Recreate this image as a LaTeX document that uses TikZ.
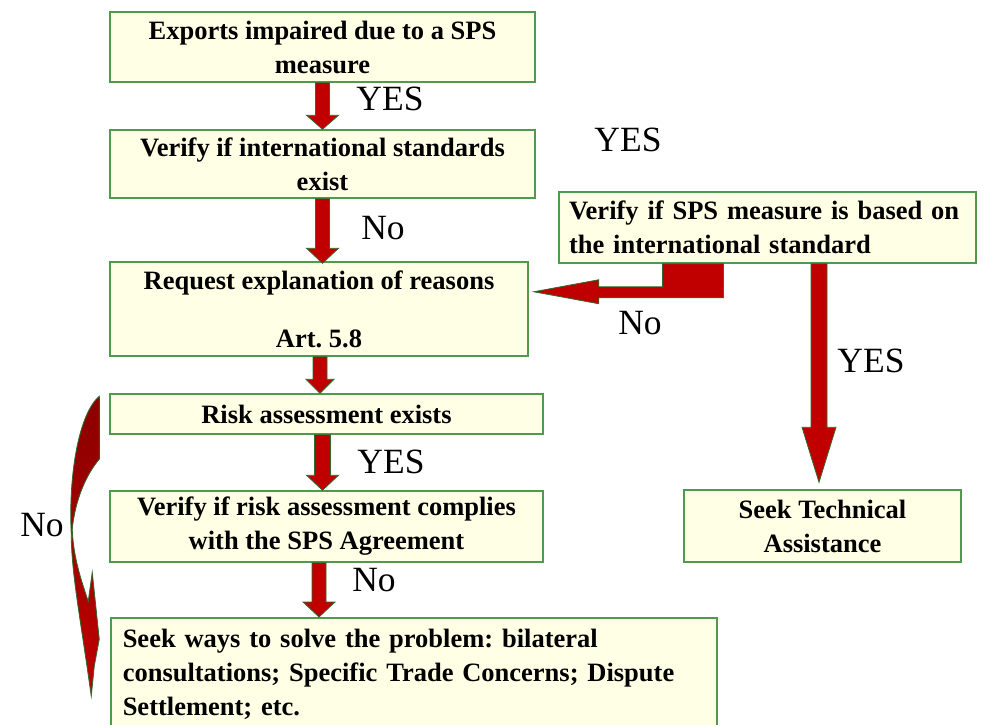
\documentclass[tikz,border=0pt]{standalone}
\usepackage{fontspec}
\setmainfont{Liberation Serif}
\usepackage{xcolor}
\usepackage{tikz}
\usetikzlibrary{positioning,arrows.meta,calc}
\definecolor{boxgreen}{HTML}{4E9A4E}
\definecolor{boxfill}{HTML}{FFFFE6}
\definecolor{arrowred}{HTML}{C00000}
\definecolor{arrowdark}{HTML}{8A0000}
\definecolor{rimgreen}{HTML}{2E6B2E}
\frenchspacing
% block arrow pointing down: from, to, shaft half width, head half width, head length
\newcommand{\blockdown}[5]{%
  \filldraw[blockarrow] let \p1=(#1), \p2=(#2) in
    (\x1-#3,\y1) -- (\x1+#3,\y1) -- (\x1+#3,\y2+#5) -- (\x1+#4,\y2+#5)
    -- (\x1,\y2) -- (\x1-#4,\y2+#5) -- (\x1-#3,\y2+#5) -- cycle;}

\begin{document}
\begin{tikzpicture}[x=1pt,y=-1pt,
   box/.style={draw=boxgreen,fill=boxfill,line width=1.5pt,inner xsep=10pt,inner ysep=4pt,
     align=center,font=\fontsize{26.5}{34}\selectfont\bfseries},
   leftbox/.style={box,align=left},
   answer/.style={font=\fontsize{35.5}{40}\selectfont,inner sep=0pt},
   blockarrow/.style={fill=arrowred,draw=rimgreen,line width=0.8pt,line join=miter},
   curvearrow/.style={top color=arrowdark,bottom color=arrowred,draw=rimgreen,line width=0.8pt}]
  \useasboundingbox (0,0) rectangle (984,724);

  % main column
  \node[box,minimum width=425,minimum height=70] (exp) at (322.5,47)
    {Exports impaired due to a SPS\\measure};
  \node[box,minimum width=425,minimum height=68] (intl) at (322.5,164)
    {Verify if international standards\\exist};
  \node[box,minimum width=418,minimum height=94] (req) at (319,309)
    {Request explanation of reasons\\[24pt]Art. 5.8};
  \node[box,minimum width=433,minimum height=40] (risk) at (326.5,414)
    {Risk assessment exists};
  \node[box,minimum width=433,minimum height=71] (comply) at (326.5,526.5)
    {Verify if risk assessment complies\\with the SPS Agreement};
  \node[leftbox,anchor=north west,text width=582,minimum height=113,inner xsep=12pt,inner ysep=9pt]
    (seek) at (110,617)
    {Seek ways to solve the problem: bilateral\\consultations; Specific Trade Concerns; Dispute\\Settlement; etc.};

  % right column
  \node[leftbox,text width=397,minimum height=71] (sps) at (767.5,227.5)
    {Verify if SPS measure is based on\\the international standard};
  \node[box,minimum width=277,minimum height=72] (tech) at (822.5,526)
    {Seek Technical\\Assistance};

  % arrows
  \blockdown{exp.south}{intl.north}{7pt}{16pt}{14pt}
  \blockdown{intl.south}{[yshift=-2pt]req.north}{7pt}{16pt}{15pt}
  \blockdown{[xshift=1pt]req.south}{risk.north}{7pt}{14pt}{14pt}
  \blockdown{risk.south -| exp.south}{comply.north}{8pt}{16pt}{15pt}
  \blockdown{comply.south -| req.south}{seek.north}{7pt}{16pt}{15pt}
  \blockdown{[xshift=-3.5pt]sps.south -| tech.north}{[yshift=7pt]tech.north}{8pt}{17pt}{55pt}
  \filldraw[blockarrow] let \p1=(sps.south), \p2=(req.east) in
    (\x1-105pt,\y1) -- (\x1-44pt,\y1) -- (\x1-44pt,\y1-34pt) -- (\x2+70pt,\y1-34pt)
    -- (\x2+70pt,\y1-40pt) -- (\x2+5pt,\y1-28pt) -- (\x2+70pt,\y1-16pt)
    -- (\x2+70pt,\y1-23pt) -- (\x1-105pt,\y1-23pt) -- cycle;

  % curved arrow on the left, from risk to seek
  \begin{scope}[shift={(risk.north west)}]
    \shadedraw[curvearrow] (-10,3) -- (-10,66)
      .. controls (-22,80) and (-34,105) .. (-37,136)
      .. controls (-36,165) and (-27,190) .. (-21,208)
      -- (-17,179) -- (-10,246) -- (-15,273) -- (-18,303)
      .. controls (-28,230) and (-38,180) .. (-38,141)
      .. controls (-41,80) and (-30,20) .. (-10,3) -- cycle;
  \end{scope}

  % answers
  \node[answer] (yes1) at (390,99) {YES};
  \node[answer] (yes2) at (628,140) {YES};
  \node[answer] (no1) at (383,228) {No};
  \node[answer] (no2) at (640,323) {No};
  \node[answer] (yes3) at (871,361) {YES};
  \node[answer] (yes4) at (391,462) {YES};
  \node[answer] (no3) at (374,580) {No};
  \node[answer] (no4) at (42,525) {No};
\end{tikzpicture}
\end{document}
